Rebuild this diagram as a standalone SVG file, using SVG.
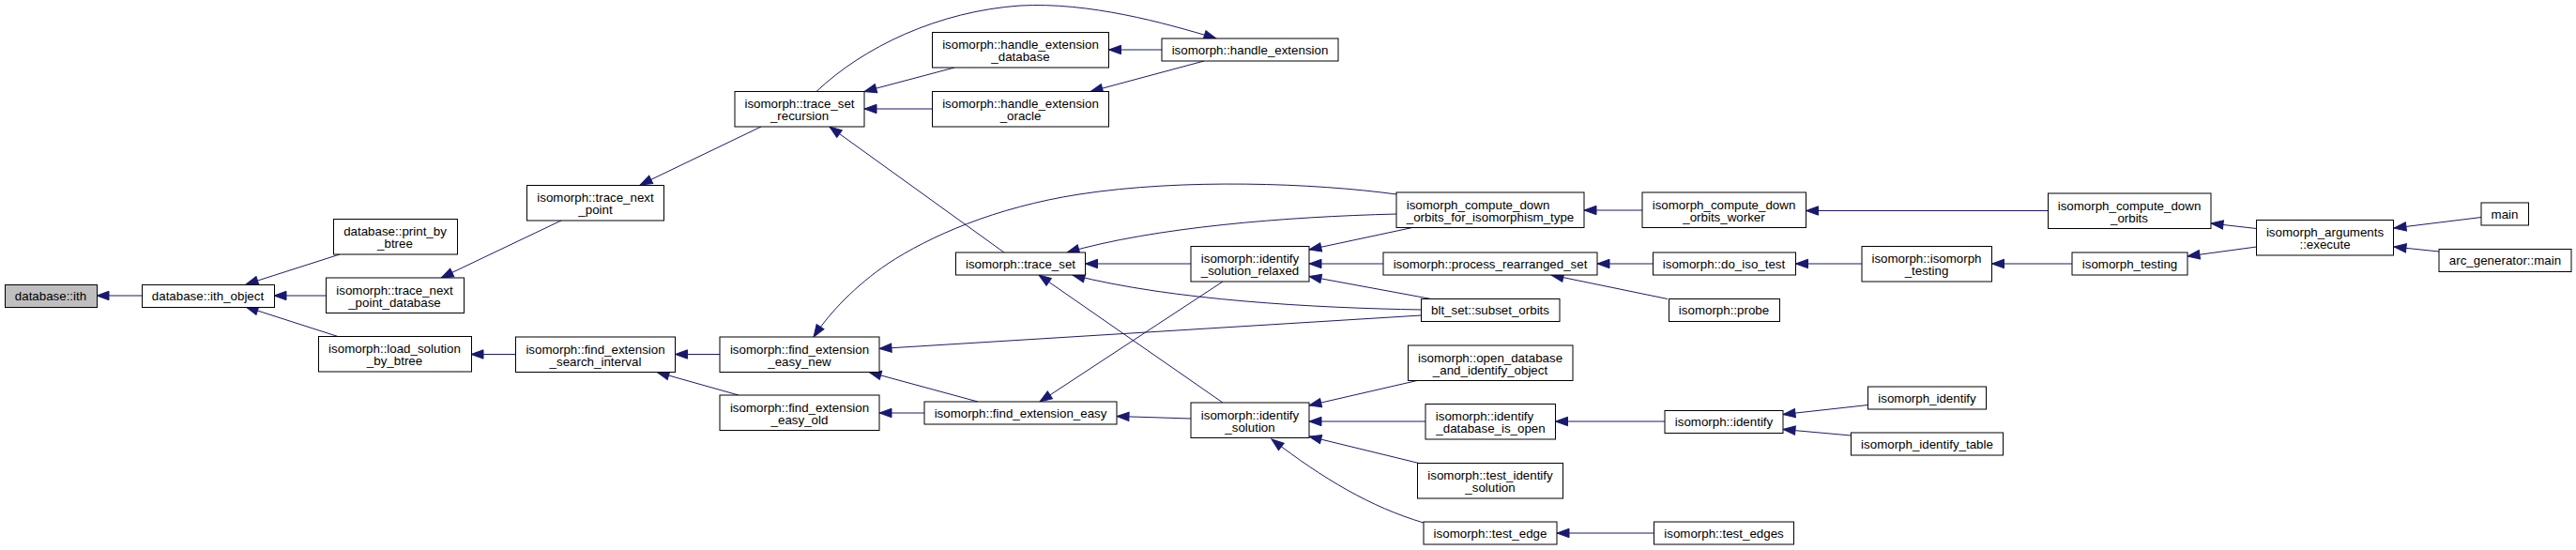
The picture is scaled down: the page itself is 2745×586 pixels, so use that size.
<svg xmlns="http://www.w3.org/2000/svg" width="2745" height="586" viewBox="0 0 2745 586">
<style>
.n rect{fill:#fff;stroke:#000;stroke-width:1}
.root rect{fill:#bfbfbf}
.n text{font-family:"Liberation Sans",Arial,Helvetica,sans-serif;font-size:13.33px;fill:#000;text-anchor:middle}
.e path{fill:none;stroke:#191970;stroke-width:1;marker-end:url(#ah)}
</style>
<defs>
<marker id="ah" markerUnits="userSpaceOnUse" markerWidth="16" markerHeight="12" viewBox="0 0 16 12" refX="14" refY="6" orient="auto" overflow="visible">
<path d="M1,1.3 L14,6 L1,10.7 z" fill="#191970" stroke="#191970" stroke-width="1"/>
</marker>
</defs>
<rect width="2745" height="586" fill="#fff"/>
<g id="edges" class="e">
<path d="M151,315 L103,315"/>
<path d="M362,271 L262,303"/>
<path d="M347,315 L292,315"/>
<path d="M360,358.5 L262,327"/>
<path d="M599,234.5 L470,296"/>
<path d="M549.5,377.5 L502,377.5"/>
<path d="M811,135 L682,197"/>
<path d="M767,377.5 L719.5,377.5"/>
<path d="M787,421 L700,396.5"/>
<path d="M1017,72 L921,97.5"/>
<path d="M993.5,116 L921,116"/>
<path d="M1070,269 L884,135"/>
<path d="M1238,53 L1181.5,53"/>
<path d="M1283,65 L1162,97.5"/>
<path d="M870,97.5 C920,50 1000,12 1087,6 C1160,2 1240,24 1296,41"/>
<path d="M1488,207 C1400,195 1260,190 1150,207 C1060,221 990,252 946,281 C912,304 884,333 867,359"/>
<path d="M1488,228 C1370,231 1230,242 1137,269"/>
<path d="M1269,281 L1156.5,281"/>
<path d="M1514.5,330 C1400,328 1250,320 1143,293"/>
<path d="M1303,429 L1107,293"/>
<path d="M1514.5,336 L937,371.5"/>
<path d="M1042,428 L926,396.5"/>
<path d="M985,440 L937,440"/>
<path d="M1303,300 L1108,428"/>
<path d="M1269,446 L1190,443.5"/>
<path d="M1505,242.5 L1395,266"/>
<path d="M1474,281 L1395,281"/>
<path d="M1525,318.5 L1395,294.5"/>
<path d="M1510,405.5 L1395,432"/>
<path d="M1519,449 L1395,449"/>
<path d="M1512,493.5 L1395,465"/>
<path d="M1517,557 C1460,540 1410,510 1355,468"/>
<path d="M1750,224 L1688,224"/>
<path d="M1761.5,281 L1702,281"/>
<path d="M1777,318.5 L1653,293"/>
<path d="M1774,449 L1657.5,449"/>
<path d="M1762.5,568 L1659,568"/>
<path d="M2182.5,224.5 L1924.5,224.5"/>
<path d="M1984,281 L1913.5,281"/>
<path d="M2208,281 L2122.5,281"/>
<path d="M2404.5,243.5 L2356,238"/>
<path d="M2404.5,263 L2331,273"/>
<path d="M2644,231.5 L2551,243"/>
<path d="M2599,268 L2551,263"/>
<path d="M1990.5,431.5 L1900,441.5"/>
<path d="M1972.5,464 L1900,457.5"/>
</g>
<g id="n_ith" class="n root"><rect x="5.5" y="303.5" width="98" height="24"/><text x="54" y="320">database::ith</text></g>
<g id="n_ith_object" class="n"><rect x="151.5" y="303.5" width="141" height="24"/><text x="221.5" y="320">database::ith_object</text></g>
<g id="n_print_by_btree" class="n"><rect x="355.5" y="233.5" width="132" height="37.5"/><text x="421" y="251">database::print_by</text><text x="421" y="264">_btree</text></g>
<g id="n_trace_next_point_database" class="n"><rect x="347.5" y="296" width="147" height="37.5"/><text x="420.5" y="313.5">isomorph::trace_next</text><text x="420.5" y="326.5">_point_database</text></g>
<g id="n_load_solution_by_btree" class="n"><rect x="339.5" y="358.5" width="163" height="37.5"/><text x="420.5" y="376">isomorph::load_solution</text><text x="420.5" y="389">_by_btree</text></g>
<g id="n_trace_next_point" class="n"><rect x="561.5" y="197.5" width="146" height="37.5"/><text x="634.5" y="215">isomorph::trace_next</text><text x="634.5" y="228">_point</text></g>
<g id="n_search_interval" class="n"><rect x="549.5" y="359" width="170" height="37.5"/><text x="634.5" y="376.5">isomorph::find_extension</text><text x="634.5" y="389.5">_search_interval</text></g>
<g id="n_trace_set_recursion" class="n"><rect x="783" y="97.5" width="138" height="37.5"/><text x="852" y="115">isomorph::trace_set</text><text x="852" y="128">_recursion</text></g>
<g id="n_easy_new" class="n"><rect x="767" y="359" width="170" height="37.5"/><text x="852" y="376.5">isomorph::find_extension</text><text x="852" y="389.5">_easy_new</text></g>
<g id="n_easy_old" class="n"><rect x="767" y="421" width="170" height="37.5"/><text x="852" y="438.5">isomorph::find_extension</text><text x="852" y="451.5">_easy_old</text></g>
<g id="n_he_database" class="n"><rect x="993.5" y="34.5" width="188" height="37.5"/><text x="1087.5" y="52">isomorph::handle_extension</text><text x="1087.5" y="65">_database</text></g>
<g id="n_he_oracle" class="n"><rect x="993.5" y="97.5" width="188" height="37.5"/><text x="1087.5" y="115">isomorph::handle_extension</text><text x="1087.5" y="128">_oracle</text></g>
<g id="n_trace_set" class="n"><rect x="1018.5" y="269" width="138" height="24"/><text x="1087.5" y="285.5">isomorph::trace_set</text></g>
<g id="n_find_extension_easy" class="n"><rect x="985" y="428" width="205" height="24"/><text x="1087.5" y="444.5">isomorph::find_extension_easy</text></g>
<g id="n_handle_extension" class="n"><rect x="1238" y="41" width="188" height="24"/><text x="1332" y="57.5">isomorph::handle_extension</text></g>
<g id="n_isr" class="n"><rect x="1269" y="262.5" width="126" height="37.5"/><text x="1332" y="280">isomorph::identify</text><text x="1332" y="293">_solution_relaxed</text></g>
<g id="n_is" class="n"><rect x="1269" y="429" width="126" height="37.5"/><text x="1332" y="446.5">isomorph::identify</text><text x="1332" y="459.5">_solution</text></g>
<g id="n_cdo_iso" class="n"><rect x="1488" y="205" width="200" height="37.5"/><text x="1575" y="222.5">isomorph_compute_down</text><text x="1588" y="235.5">_orbits_for_isomorphism_type</text></g>
<g id="n_process_rearranged_set" class="n"><rect x="1474" y="269" width="228" height="24"/><text x="1588" y="285.5">isomorph::process_rearranged_set</text></g>
<g id="n_subset_orbits" class="n"><rect x="1514.5" y="318.5" width="147.5" height="24"/><text x="1588" y="335">blt_set::subset_orbits</text></g>
<g id="n_open_db" class="n"><rect x="1500.5" y="368" width="175.5" height="37.5"/><text x="1588" y="385.5">isomorph::open_database</text><text x="1588" y="398.5">_and_identify_object</text></g>
<g id="n_ident_db_open" class="n"><rect x="1519" y="430.5" width="138.5" height="37.5"/><text x="1582" y="448">isomorph::identify</text><text x="1588.5" y="461">_database_is_open</text></g>
<g id="n_test_identify_solution" class="n"><rect x="1510.5" y="493.5" width="155" height="37.5"/><text x="1588" y="511">isomorph::test_identify</text><text x="1588" y="524">_solution</text></g>
<g id="n_test_edge" class="n"><rect x="1517" y="556" width="142" height="24"/><text x="1588" y="572.5">isomorph::test_edge</text></g>
<g id="n_cdo_worker" class="n"><rect x="1750" y="205" width="174.5" height="37.5"/><text x="1837" y="222.5">isomorph_compute_down</text><text x="1837" y="235.5">_orbits_worker</text></g>
<g id="n_do_iso_test" class="n"><rect x="1761.5" y="269" width="152" height="24"/><text x="1837" y="285.5">isomorph::do_iso_test</text></g>
<g id="n_probe" class="n"><rect x="1778.5" y="318.5" width="118" height="24"/><text x="1837" y="335">isomorph::probe</text></g>
<g id="n_identify" class="n"><rect x="1774" y="437.5" width="126" height="24"/><text x="1837" y="454">isomorph::identify</text></g>
<g id="n_test_edges" class="n"><rect x="1762.5" y="556" width="149" height="24"/><text x="1837" y="572.5">isomorph::test_edges</text></g>
<g id="n_cdo" class="n"><rect x="2182.5" y="206" width="173.5" height="37.5"/><text x="2269" y="223.5">isomorph_compute_down</text><text x="2269" y="236.5">_orbits</text></g>
<g id="n_iso_iso_testing" class="n"><rect x="1984" y="262.5" width="138.5" height="37.5"/><text x="2053" y="280">isomorph::isomorph</text><text x="2053" y="293">_testing</text></g>
<g id="n_isomorph_testing" class="n"><rect x="2208" y="269" width="123" height="24"/><text x="2269.5" y="285.5">isomorph_testing</text></g>
<g id="n_execute" class="n"><rect x="2404.5" y="234.5" width="146" height="37.5"/><text x="2477.5" y="252">isomorph_arguments</text><text x="2477.5" y="265">::execute</text></g>
<g id="n_main" class="n"><rect x="2644" y="216" width="50.5" height="24"/><text x="2669" y="232.5">main</text></g>
<g id="n_arc_main" class="n"><rect x="2599" y="265.5" width="141" height="24"/><text x="2669.5" y="282">arc_generator::main</text></g>
<g id="n_isomorph_identify" class="n"><rect x="1990.5" y="412" width="126" height="24"/><text x="2053.5" y="428.5">isomorph_identify</text></g>
<g id="n_isomorph_identify_table" class="n"><rect x="1972.5" y="461" width="162" height="24"/><text x="2053.5" y="477.5">isomorph_identify_table</text></g>
</svg>
